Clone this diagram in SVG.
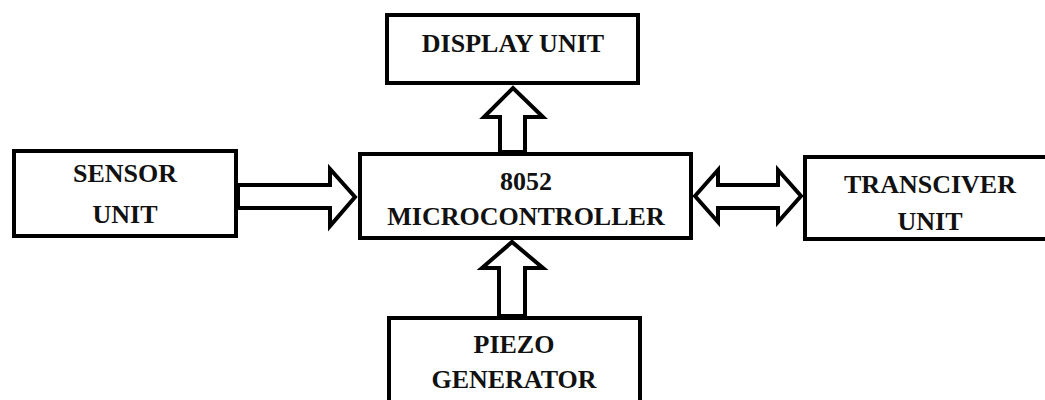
<svg xmlns="http://www.w3.org/2000/svg" width="1045" height="400" viewBox="0 0 1045 400">
<style>
.box{fill:#fff;stroke:#000;stroke-width:4;stroke-linejoin:miter}
.arr{fill:#fff;stroke:#000;stroke-width:4;stroke-linejoin:miter}
.t{font-family:"Liberation Serif","Times New Roman",serif;font-weight:bold;font-size:26px;fill:#111;text-anchor:middle}
</style>
<rect width="1045" height="400" fill="#fff"/>
<g id="connectors">
<polygon class="arr" points="500,152 500,117 484,117 513,88 543,117 525,117 525,152"/>
<polygon class="arr" points="238,185 330,185 330,169 355,197 330,226 330,208 238,208"/>
<polygon class="arr" points="695,196 718,170 718,185 778,185 778,170 801,196 778,222 778,208 718,208 718,222"/>
<polygon class="arr" points="499,316 499,268 482,268 512,242 543,268 525,268 525,316"/>
</g>
<g id="display">
<rect class="box" x="387" y="15" width="251" height="68"/>
<text class="t" x="513" y="52">DISPLAY UNIT</text>
</g>
<g id="sensor">
<rect class="box" x="14" y="151" width="222" height="85"/>
<text class="t" x="125" y="182">SENSOR</text>
<text class="t" x="125" y="223">UNIT</text>
</g>
<g id="micro">
<rect class="box" x="360" y="154" width="331" height="84"/>
<text class="t" x="526" y="190">8052</text>
<text class="t" x="526" y="225">MICROCONTROLLER</text>
</g>
<g id="transceiver">
<rect class="box" x="805" y="157" width="260" height="82"/>
<text class="t" x="930" y="193">TRANSCIVER</text>
<text class="t" x="930" y="230">UNIT</text>
</g>
<g id="piezo">
<rect class="box" x="389" y="318" width="251" height="120"/>
<text class="t" x="514" y="353">PIEZO</text>
<text class="t" x="514" y="388">GENERATOR</text>
</g>
</svg>
